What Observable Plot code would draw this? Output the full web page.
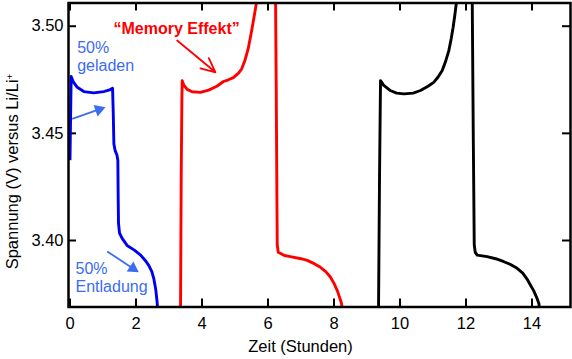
<!DOCTYPE html>
<html>
<head>
<meta charset="utf-8">
<script src="https://cdn.jsdelivr.net/npm/d3@7"></script>
<script src="https://cdn.jsdelivr.net/npm/@observablehq/plot@0.6"></script>
<style>
  html, body { margin: 0; padding: 0; background: white; }
  #chart { width: 572px; height: 359px; }
</style>
</head>
<body>
<div id="chart"></div>
<script>
// ---- tick labels ----
const xTicks = [0, 2, 4, 6, 8, 10, 12, 14];
const yTicks = [3.40, 3.45, 3.50];
const xTitle = "Zeit (Stunden)";
const yTitle = "Spannung (V) versus Li/Li+";

// ---- series: [time (h), voltage (V)] ----
const blueCycle = [
  [0.00, 3.4375], [0.02, 3.460], [0.036, 3.4765], [0.10, 3.4740], [0.22, 3.4715],
  [0.42, 3.4695], [0.72, 3.4689], [1.02, 3.4695], [1.20, 3.4703], [1.29, 3.4710],
  [1.31, 3.4600], [1.33, 3.4450], [1.37, 3.4418], [1.42, 3.4400], [1.45, 3.4375],
  [1.46, 3.4200], [1.47, 3.4080], [1.50, 3.4035], [1.58, 3.4010], [1.73, 3.3977],
  [1.95, 3.3955], [2.14, 3.3932], [2.30, 3.3903], [2.39, 3.3883], [2.48, 3.3855],
  [2.54, 3.3822], [2.60, 3.3770], [2.64, 3.3713], [2.65, 3.3690]
];
const redCharge = [
  [3.35, 3.3690], [3.37, 3.4300], [3.39, 3.4650], [3.40, 3.4746], [3.45, 3.4725],
  [3.55, 3.4705], [3.70, 3.4694], [3.95, 3.4691], [4.20, 3.4702], [4.45, 3.4720],
  [4.65, 3.4742], [4.80, 3.4750], [4.95, 3.4760], [5.10, 3.4780], [5.20, 3.4800],
  [5.30, 3.4840], [5.40, 3.4895], [5.50, 3.4975], [5.58, 3.5045], [5.65, 3.5110]
];
const redDischarge = [
  [6.23, 3.5110], [6.25, 3.4700], [6.27, 3.4200], [6.28, 3.3980], [6.31, 3.3945],
  [6.50, 3.3930], [6.68, 3.3925], [7.00, 3.3915], [7.19, 3.3907], [7.40, 3.3892],
  [7.59, 3.3875], [7.75, 3.3855], [7.89, 3.3830], [8.00, 3.3800], [8.10, 3.3766],
  [8.18, 3.3730], [8.23, 3.3705], [8.24, 3.3690]
];
const blackCharge = [
  [9.35, 3.3690], [9.38, 3.4300], [9.41, 3.4746], [9.50, 3.4725], [9.70, 3.4700],
  [9.90, 3.4688], [10.12, 3.4684], [10.40, 3.4688], [10.62, 3.4700], [10.85, 3.4720],
  [11.02, 3.4738], [11.15, 3.4762], [11.28, 3.4793], [11.38, 3.4835], [11.48, 3.4886],
  [11.55, 3.4940], [11.61, 3.4995], [11.66, 3.5050], [11.71, 3.5110]
];
const blackDischarge = [
  [12.19, 3.5110], [12.22, 3.4500], [12.25, 3.3980], [12.28, 3.3945], [12.34, 3.3932],
  [12.64, 3.3925], [12.90, 3.3915], [13.15, 3.3901], [13.35, 3.3888], [13.55, 3.3870],
  [13.72, 3.3848], [13.85, 3.3820], [13.96, 3.3790], [14.05, 3.3766], [14.14, 3.3735],
  [14.21, 3.3705], [14.22, 3.3690]
];

// ---- annotations ----
const noteTexts = ["50%\ngeladen", "50%\nEntladung"];
const noteX = [0.218, 0.167];
const noteY = [3.4938, 3.3907];
const memoryText = ["\u201CMemory Effekt\u201D"];
const memoryX = [1.318];
const memoryY = [3.5019];
const blueArrowTail = [[0.067, 3.4568], [1.127, 3.3949]];
const blueArrowTip = [[1.076, 3.4622], [2.085, 3.3852]];
const redArrowTail = [[3.248, 3.4933]];
const redArrowTip = [[4.409, 3.4785]];

// ---- layout ----
const W = 572, H = 359;
const mL = 68, mR = 2, mT = 2.5, mB = 52.5;
const innerW = W - mL - mR, innerH = H - mT - mB;
const xDomain = [-0.0455, 15.167];
const yDomain = [3.36897, 3.51083];
const blueLine = "#0000f0";
const blueNote = "#3b6cf2";
const red = "#ff0000";

const xs = d3.scaleLinear(xDomain, [mL, W - mR]);
const ys = d3.scaleLinear(yDomain, [H - mB, mT]);

// filled arrowheads for the blue notes (triangle symbol, rotated along the shaft)
const halfY = 3.5; // d3 triangle: tip at 2*halfY from center
const blueArrows = blueArrowTail.map((t, i) => {
  const h = blueArrowTip[i];
  const px0 = xs(t[0]), py0 = ys(t[1]), px1 = xs(h[0]), py1 = ys(h[1]);
  const len = Math.hypot(px1 - px0, py1 - py0);
  const ux = (px1 - px0) / len, uy = (py1 - py0) / len;
  return {
    x1: t[0], y1: t[1],
    x2: xs.invert(px1 - ux * 6), y2: ys.invert(py1 - uy * 6),
    cx: xs.invert(px1 - ux * 2 * halfY), cy: ys.invert(py1 - uy * 2 * halfY),
    rot: Math.atan2(ux, -uy) * 180 / Math.PI
  };
});
const triR = Math.sqrt(3 * Math.sqrt(3) * halfY * halfY / Math.PI);

const redArrows = redArrowTail.map((t, i) => ({x1: t[0], y1: t[1], x2: redArrowTip[i][0], y2: redArrowTip[i][1]}));

const lineOpts = (c) => ({x: d => d[0], y: d => d[1], stroke: c, strokeWidth: 2.9, strokeLinejoin: "round", strokeLinecap: "butt", clip: true});

const chart = Plot.plot({
  width: W, height: H,
  marginLeft: mL, marginRight: mR, marginTop: mT, marginBottom: mB,
  x: {domain: xDomain},
  y: {domain: yDomain},
  style: {fontFamily: "'Liberation Sans', Arial, Helvetica, sans-serif", background: "white", color: "black", overflow: "visible"},
  marks: [
    Plot.axisX(xTicks, {tickSize: 0, tickPadding: 10, fontSize: 16.5, label: null, tickFormat: d => String(d)}),
    Plot.axisY(yTicks, {tickSize: 0, tickPadding: 5, fontSize: 16.5, label: null, tickFormat: d3.format(".2f")}),
    Plot.tickX(xTicks, {x: d => d, insetTop: innerH - 8, strokeWidth: 2, stroke: "black"}),
    Plot.tickX(xTicks, {x: d => d, insetBottom: innerH - 8, strokeWidth: 2, stroke: "black"}),
    Plot.tickY(yTicks, {y: d => d, insetRight: innerW - 8, strokeWidth: 2, stroke: "black"}),
    Plot.tickY(yTicks, {y: d => d, insetLeft: innerW - 8, strokeWidth: 2, stroke: "black"}),
    Plot.line(blueCycle, lineOpts(blueLine)),
    Plot.line(redCharge, lineOpts(red)),
    Plot.line(redDischarge, lineOpts(red)),
    Plot.line(blackCharge, lineOpts("black")),
    Plot.line(blackDischarge, lineOpts("black")),
    Plot.frame({stroke: "black", strokeWidth: 2.5}),
    Plot.text(noteTexts, {x: (d, i) => noteX[i], y: (d, i) => noteY[i], text: d => d, fill: blueNote, fontSize: 16, textAnchor: "start", lineAnchor: "top", lineHeight: 1.15}),
    Plot.link(blueArrows, {x1: "x1", y1: "y1", x2: "x2", y2: "y2", stroke: blueNote, strokeWidth: 1.8}),
    Plot.dot(blueArrows, {x: "cx", y: "cy", symbol: "triangle", r: triR, rotate: "rot", fill: blueNote, stroke: "none"}),
    Plot.text(memoryText, {x: (d, i) => memoryX[i], y: (d, i) => memoryY[i], text: d => d, fill: red, fontSize: 16, fontWeight: "bold", textAnchor: "start", lineAnchor: "top"}),
    Plot.arrow(redArrows, {x1: "x1", y1: "y1", x2: "x2", y2: "y2", stroke: red, strokeWidth: 1.8, headLength: 13, headAngle: 50}),
    Plot.text([xTitle], {frameAnchor: "bottom", dx: -19, dy: 45, text: d => d, fontSize: 16.5, fill: "black", textAnchor: "middle"}),
    Plot.text([yTitle], {frameAnchor: "left", rotate: -90, dx: -56, dy: 16.5, text: d => d, fontSize: 16.5, fill: "black", textAnchor: "middle"})
  ]
});
document.getElementById("chart").appendChild(chart);

// superscript "+" in the y title
d3.select(chart).selectAll("text").each(function () {
  if (this.textContent === yTitle) {
    this.textContent = "Spannung (V) versus Li/Li";
    d3.select(this).attr("text-anchor", "middle");
    d3.select(this).append("tspan").attr("dy", "-0.45em").attr("font-size", "0.6em").text("+");
  }
});
</script>
</body>
</html>
